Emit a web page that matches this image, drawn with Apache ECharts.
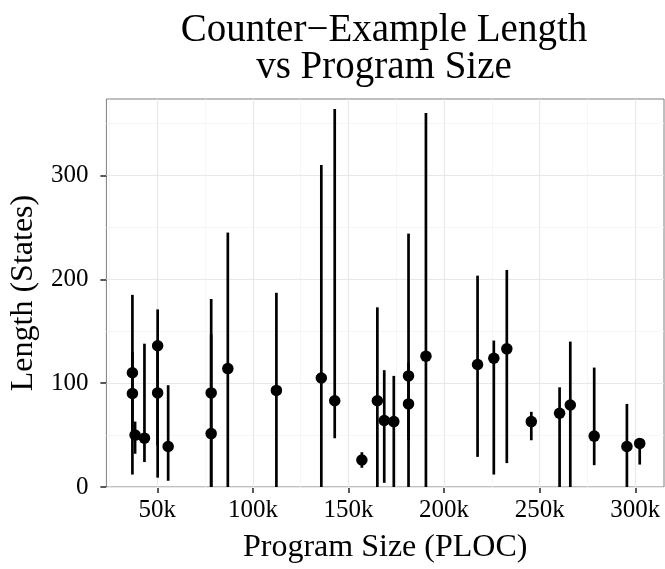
<!DOCTYPE html>
<html><head><meta charset="utf-8">
<script src="https://cdn.jsdelivr.net/npm/echarts@6/dist/echarts.min.js"></script>
<style>html,body{margin:0;padding:0;background:#fff}#c{width:665px;height:569px}</style>
</head><body><div id="c"></div>
<script>
// Program size (PLOC) of each run
const programSize = [37000, 37000, 38400, 43300, 50200, 50200, 55700, 78200, 78200, 86900, 112300, 135800, 142800, 157000, 165100, 168700, 173700, 181400, 181400, 190500, 217500, 226000, 232800, 245600, 260400, 266000, 278500, 295600, 302300];
// Mean counter-example length (states)
const meanLength = [110, 90, 50, 47, 136, 90.6, 39, 90.6, 51.4, 114, 93, 105, 83, 26, 83, 64, 63, 107, 80, 126, 118, 124, 133, 63, 71, 79, 49, 39, 42];
// Range lower / upper bounds
const lowerLength = [12, 55, 32, 24, 9, 40, 6, 0, 0, 0, 0, 0, 47, 18.5, 0, 4, 0, 0, 45, 0, 29, 12, 23, 45, 0, 0, 21, 0, 21.6];
const upperLength = [185, 130, 63, 138, 171, 140, 98, 181, 147, 245, 187, 310, 364, 33.5, 173, 112.5, 107, 244, 120, 360, 203.5, 141, 209, 72.4, 96, 140, 115, 80, 45];
// Tick values
const xTicks = [50000, 100000, 150000, 200000, 250000, 300000];
const xMinor = [25000, 75000, 125000, 175000, 225000, 275000];
const yTicks = [0, 100, 200, 300];
const yMinor = [50, 150, 250, 350];

const FONT = '"Liberation Serif", "Times New Roman", serif';
const rangeData = programSize.map((x, i) => [x, lowerLength[i], upperLength[i]]);
const pointData = programSize.map((x, i) => [x, meanLength[i]]);

const gridLines = [].concat(
  xMinor.map(v => ({ xAxis: v, lineStyle: { color: '#f4f4f4', width: 0.8 } })),
  yMinor.map(v => ({ yAxis: v, lineStyle: { color: '#f4f4f4', width: 0.8 } })),
  xTicks.map(v => ({ xAxis: v, lineStyle: { color: '#e8e8e8', width: 1.2 } })),
  yTicks.map(v => ({ yAxis: v, lineStyle: { color: '#e8e8e8', width: 1.2 } }))
);

const BAR_W = 2.7;
const chart = echarts.init(document.getElementById('c'), null, { renderer: 'canvas' });
chart.setOption({
  animation: false,
  backgroundColor: '#fff',
  graphic: [{
    type: 'text', x: 384, y: 11.5,
    style: {
      text: 'Counter\u2212Example Length\nvs Program Size',
      fontFamily: FONT, fontSize: 39, lineHeight: 37.5,
      fill: '#000', align: 'center', verticalAlign: 'top'
    }
  }],
  grid: { left: 103, right: 1, top: 99, bottom: 73, show: true, borderColor: '#7f7f7f', borderWidth: 1, backgroundColor: '#fff' },
  xAxis: {
    type: 'value', min: 23400, max: 315000,
    name: 'Program Size (PLOC)', nameLocation: 'middle', nameGap: 45,
    nameTextStyle: { fontFamily: FONT, fontSize: 32, color: '#000' },
    axisLine: { show: false },
    splitLine: { show: false },
    axisTick: { show: true, length: 6, lineStyle: { color: '#222', width: 1.5 }, customValues: xTicks },
    axisLabel: { customValues: xTicks, formatter: v => (v / 1000) + 'k', fontFamily: FONT, fontSize: 25, color: '#000', margin: 11 }
  },
  yAxis: {
    type: 'value', min: 0, max: 373.6,
    name: 'Length (States)', nameLocation: 'middle', nameGap: 56,
    nameTextStyle: { fontFamily: FONT, fontSize: 32, color: '#000' },
    axisLine: { show: false },
    splitLine: { show: false },
    axisTick: { show: true, length: 6, lineStyle: { color: '#222', width: 1.5 }, customValues: yTicks },
    axisLabel: { customValues: yTicks, fontFamily: FONT, fontSize: 25, color: '#000', margin: 18 }
  },
  series: [
    {
      type: 'scatter', data: [], silent: true, z: 1,
      markLine: { z: 1, silent: true, symbol: ['none', 'none'], label: { show: false }, animation: false, data: gridLines, lineStyle: { type: 'solid' } }
    },
    {
      type: 'custom', data: rangeData, clip: true, z: 3, silent: true,
      encode: { x: 0, y: [1, 2] },
      renderItem: function (params, api) {
        const x = api.value(0);
        const pLo = api.coord([x, api.value(1)]);
        const pHi = api.coord([x, api.value(2)]);
        return {
          type: 'rect',
          shape: { x: pLo[0] - BAR_W / 2, y: pHi[1], width: BAR_W, height: pLo[1] - pHi[1] },
          style: { fill: '#000', stroke: null }
        };
      }
    },
    {
      type: 'scatter', data: pointData, symbol: 'circle', symbolSize: 11.5, z: 4, silent: true,
      itemStyle: { color: '#000', opacity: 1, borderWidth: 0 }
    }
  ]
});
</script></body></html>
